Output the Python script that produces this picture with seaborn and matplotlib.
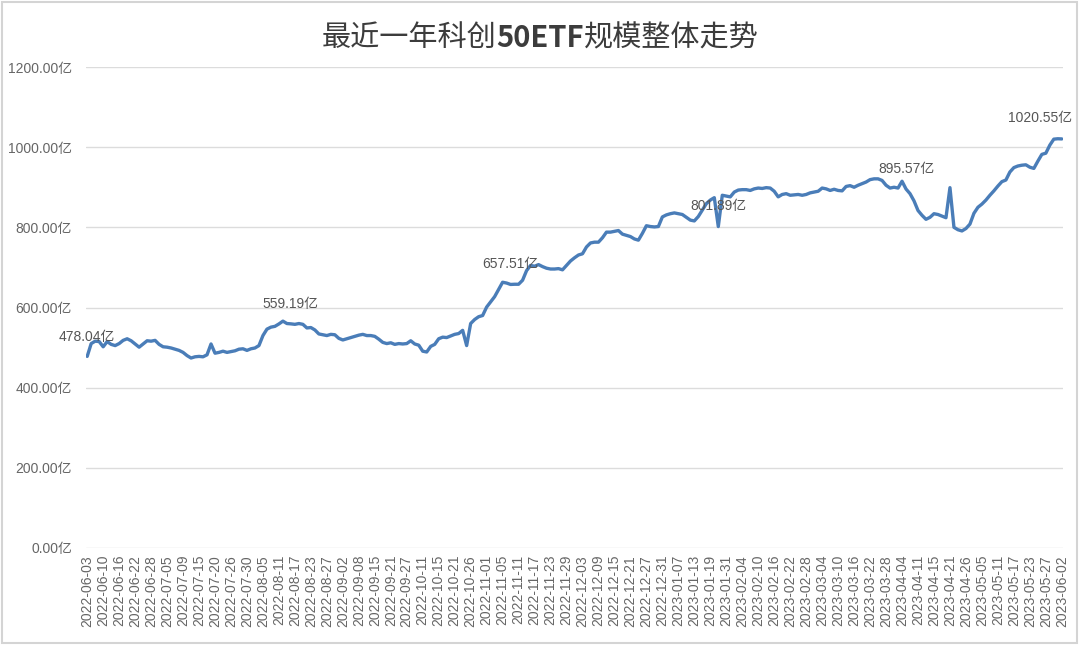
import numpy as np
import pandas as pd
import matplotlib
matplotlib.use("Agg")
import matplotlib.pyplot as plt
import seaborn as sns
from matplotlib.patches import Rectangle

# ---------------- data ----------------
title_parts = ["最近一年科创", "50ETF", "规模整体走势"]

tick_dates = [
    "2022-06-03", "2022-06-10", "2022-06-16", "2022-06-22", "2022-06-28",
    "2022-07-05", "2022-07-09", "2022-07-15", "2022-07-20", "2022-07-26", "2022-07-30",
    "2022-08-05", "2022-08-11", "2022-08-17", "2022-08-23", "2022-08-27",
    "2022-09-02", "2022-09-08", "2022-09-15", "2022-09-21", "2022-09-27",
    "2022-10-11", "2022-10-15", "2022-10-21", "2022-10-26",
    "2022-11-01", "2022-11-05", "2022-11-11", "2022-11-17", "2022-11-23", "2022-11-29",
    "2022-12-03", "2022-12-09", "2022-12-15", "2022-12-21", "2022-12-27", "2022-12-31",
    "2023-01-07", "2023-01-13", "2023-01-19", "2023-01-31",
    "2023-02-04", "2023-02-10", "2023-02-16", "2023-02-22", "2023-02-28",
    "2023-03-04", "2023-03-10", "2023-03-16", "2023-03-22", "2023-03-28",
    "2023-04-04", "2023-04-11", "2023-04-15", "2023-04-21", "2023-04-26",
    "2023-05-05", "2023-05-11", "2023-05-17", "2023-05-23", "2023-05-27",
    "2023-06-02",
]

# ETF scale (亿), one value per data point (4 points per labelled date step)
scale_values = [
    478.04, 510, 516, 515, 502, 515, 508, 505, 510, 518,
    522, 517, 509, 501, 509, 517, 516, 518, 508, 502,
    501, 499, 496, 493, 488, 480, 474, 477, 478, 477,
    482, 509, 486, 488, 491, 488, 490, 492, 496, 497,
    493, 497, 499, 505, 530, 546, 551, 553, 559, 566,
    560, 559.19, 558, 560, 558, 549, 550, 544, 534, 532,
    530, 533, 532, 523, 519, 522, 525, 528, 531, 533,
    530, 530, 528, 521, 513, 510, 512, 508, 510, 509,
    510, 517, 509, 506, 491, 489, 503, 508, 522, 526,
    525, 529, 533, 535, 543, 505, 560, 570, 577, 580,
    601, 614, 627, 645, 663, 661, 657.51, 658, 658, 668,
    692, 705, 703, 707, 702, 698, 696, 696, 697, 694,
    705, 716, 724, 731, 734, 751, 761, 763, 763, 774,
    788, 788, 790, 792, 783, 780, 777, 771, 768, 785,
    804, 802, 801, 802, 826, 831, 834, 836, 834, 832,
    825, 818, 816, 827, 843, 859, 868, 874, 801.89, 880,
    878, 876, 888, 893, 894, 894, 892, 896, 898, 897,
    899, 898, 890, 876, 882, 884, 880, 881, 882, 880,
    882, 886, 888, 890, 898, 896, 892, 895, 892, 891,
    902, 904, 900, 905, 909, 913, 919, 921, 921, 917,
    905, 898, 900, 898, 915, 895.57, 884, 866, 842, 830,
    820, 825, 834, 832, 828, 824, 899, 800, 794, 791,
    797, 808, 835, 850, 858, 868, 880, 891, 903, 914,
    918, 938, 949, 953, 955, 956, 950, 947, 965, 982,
    985, 1005, 1020, 1021, 1020.55,
]

labelled_values = [478.04, 559.19, 657.51, 801.89, 895.57, 1020.55]

y_ticks = [0, 200, 400, 600, 800, 1000, 1200]

# ---------------- plot ----------------
sns.set_style("white")
plt.rcParams["font.family"] = ["Liberation Sans", "Noto Sans CJK SC", "DejaVu Sans"]

df = pd.DataFrame({"idx": np.arange(len(scale_values)), "scale": scale_values})

fig = plt.figure(figsize=(10.8, 6.45), dpi=100)
ax = fig.add_axes([86 / 1080, 1 - 548 / 645, (1063 - 86) / 1080, (548 - 67) / 645])

line_color = "#4A7DB8"
sns.lineplot(data=df, x="idx", y="scale", ax=ax, color=line_color, linewidth=2.4)

ax.set_xlim(-0.3, len(scale_values) - 0.7)
ax.set_ylim(0, 1200)

ax.set_yticks(y_ticks)
ax.set_yticklabels([f"{v:.2f}亿" for v in y_ticks], fontsize=10, color="#666666")
ax.set_xticks(np.arange(0, len(scale_values), 4))
ax.set_xticklabels(tick_dates, rotation=90, fontsize=10, color="#666666")
ax.tick_params(axis="both", length=0)
ax.tick_params(axis="y", pad=10)
ax.tick_params(axis="x", pad=5)

ax.grid(axis="y", color="#dcdcdc", linewidth=1.0)
ax.grid(axis="x", visible=False)
for s in ax.spines.values():
    s.set_visible(False)
ax.set_xlabel("")
ax.set_ylabel("")

# data labels
label_offsets = {0: (0, 14), 5: (-16, 15)}
for k, v in enumerate(labelled_values):
    i = scale_values.index(v)
    dx, dy = label_offsets.get(k, (0, 14.5))
    ax.annotate(f"{v:.2f}亿", xy=(i, v), xytext=(dx, dy), textcoords="offset points",
                ha="center", va="center", fontsize=10, color="#555555")

# title with bold "50ETF" in the middle
title_fam = ["Noto Sans CJK SC", "DejaVu Sans"]
weights = ["normal", "bold", "normal"]
title_y = 1 - 38 / 645
renderer = fig.canvas.get_renderer()
texts = []
for part, w in zip(title_parts, weights):
    t = fig.text(0, title_y, part, ha="left", va="center", fontsize=21,
                 color="#3c3c3c", family=title_fam, fontweight=w)
    texts.append(t)
widths = [t.get_window_extent(renderer=renderer).width for t in texts]
total = sum(widths)
x_px = 1080 / 2 - total / 2
for t, wd in zip(texts, widths):
    t.set_x(x_px / 1080)
    x_px += wd

# thin frame round the picture
fig.patches.append(Rectangle((0.002, 0.003), 0.995, 0.994, transform=fig.transFigure,
                             fill=False, edgecolor="#d4d4d4", linewidth=1.5))

fig.savefig("out.png", dpi=100, facecolor="white")
